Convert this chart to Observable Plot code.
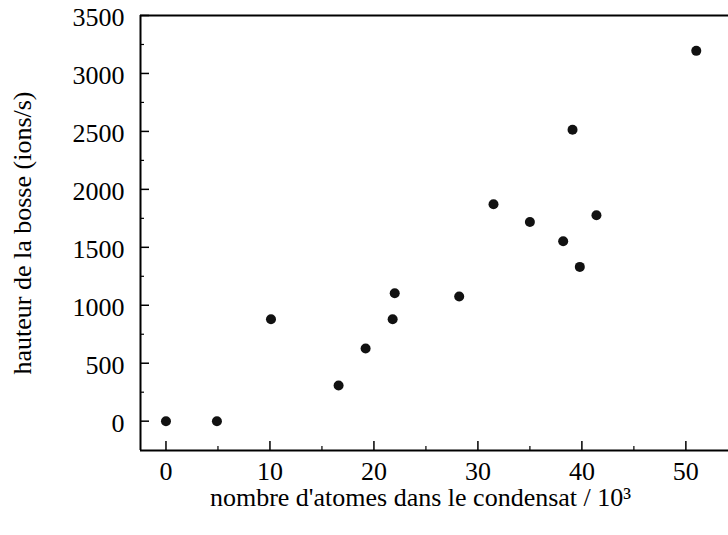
<!DOCTYPE html>
<html>
<head>
<meta charset="utf-8">
<script src="https://cdn.jsdelivr.net/npm/d3@7"></script>
<script src="https://cdn.jsdelivr.net/npm/@observablehq/plot@0.6"></script>
<style>
  html, body { margin: 0; padding: 0; background: #fff; }
  svg text { font-family: 'Liberation Serif', 'Times New Roman', serif; }
</style>
</head>
<body>
<div id="chart"></div>
<script>
// Data
const atoms = [0, 4.9, 10.1, 16.6, 19.2, 21.8, 22.0, 28.2, 31.5, 35.0, 38.2, 39.1, 39.8, 41.4, 51.0];
const height_ = [0, 0, 880, 308, 627, 879, 1103, 1075, 1871, 1719, 1552, 2515, 1331, 1776, 3195];
const xTicks = [0, 10, 20, 30, 40, 50];
const xMinor = [5, 15, 25, 35, 45];
const yTicks = [0, 500, 1000, 1500, 2000, 2500, 3000, 3500];
const yMinor = [250, 750, 1250, 1750, 2250, 2750, 3250];
const xTitle = "nombre d'atomes dans le condensat / 10³";
const yTitle = "hauteur de la bosse (ions/s)";

const pts = atoms.map((x, i) => ({x, y: height_[i]}));

const FONT = "Liberation Serif";
const W = 728, H = 535, mL = 140, mR = 0, mT = 15, mB = 85;
const pw = W - mL - mR, ph = H - mT - mB;
const xDom = [-2.45, 54.1], yDom = [-253, 3500];

const chart = Plot.plot({
  width: W, height: H,
  marginLeft: mL, marginRight: mR, marginTop: mT, marginBottom: mB,
  style: {fontFamily: FONT, fontSize: "26px", color: "#000", background: "#fff"},
  x: {domain: xDom, axis: null},
  y: {domain: yDom, axis: null},
  marks: [
    // spines
    Plot.ruleY([yDom[1]], {stroke: "#000", strokeWidth: 2}),
    Plot.ruleY([yDom[0]], {stroke: "#000", strokeWidth: 2}),
    Plot.ruleX([xDom[0]], {stroke: "#000", strokeWidth: 2}),
    // inward ticks
    Plot.tickY(yTicks, {y: d => d, stroke: "#000", strokeWidth: 1.5, insetRight: pw - 9}),
    Plot.tickY(yMinor, {y: d => d, stroke: "#000", strokeWidth: 1.2, insetRight: pw - 4}),
    Plot.tickX(xTicks, {x: d => d, stroke: "#000", strokeWidth: 1.5, insetTop: ph - 9}),
    Plot.tickX(xMinor, {x: d => d, stroke: "#000", strokeWidth: 1.2, insetTop: ph - 4}),
    // tick labels
    Plot.text(yTicks, {y: d => d, text: d => String(d), frameAnchor: "left", dx: -16, dy: 2, textAnchor: "end", lineAnchor: "middle", fontSize: 26, fontFamily: FONT, fill: "#000"}),
    Plot.text(xTicks, {x: d => d, text: d => String(d), frameAnchor: "bottom", dy: 21, textAnchor: "middle", lineAnchor: "middle", fontSize: 26, fontFamily: FONT, fill: "#000"}),
    // titles
    Plot.text([yTitle], {text: d => d, frameAnchor: "left", dx: -118, rotate: -90, textAnchor: "middle", fontSize: 26, fontFamily: FONT, fill: "#000"}),
    Plot.text([xTitle], {text: d => d, frameAnchor: "bottom", dy: 55, dx: -14, textAnchor: "middle", fontSize: 26, fontFamily: FONT, fill: "#000"}),
    // points
    Plot.dot(pts, {x: "x", y: "y", r: 5, fill: "#111", stroke: null})
  ]
});
document.getElementById("chart").appendChild(chart);
</script>
</body>
</html>
